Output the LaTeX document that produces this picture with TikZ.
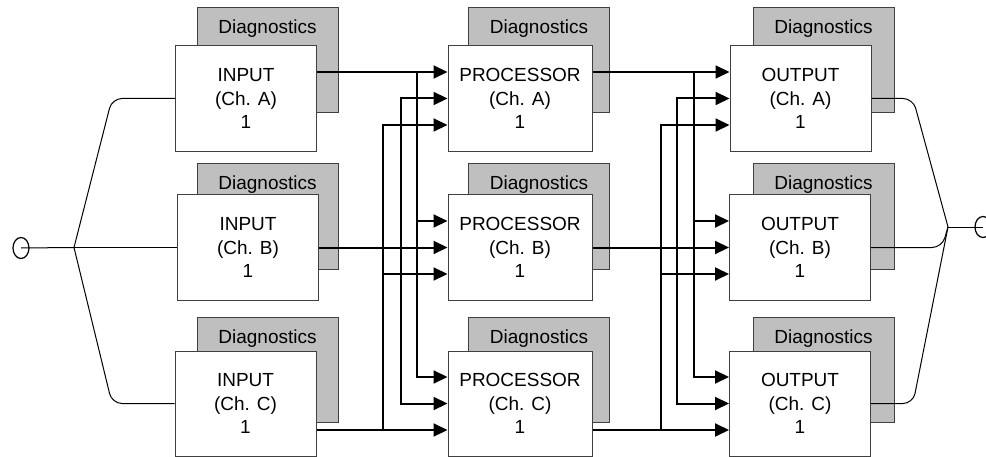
\documentclass[tikz,border=0pt]{standalone}
\usepackage{tikz}
\usetikzlibrary{shapes.geometric}
\usetikzlibrary{arrows.meta}
\usepackage{fontspec}
\setmainfont{Liberation Sans}
\usepackage{xcolor}

\begin{document}
\begin{tikzpicture}[x=0.2mm, y=-0.2mm,
            box/.style={draw=black!75, line width=0.2mm, fill=white, rectangle, minimum width=28.2mm, minimum height=21mm, align=center, font=\fontsize{10.8}{13.4}\selectfont},
            diag/.style={draw=black!75, line width=0.2mm, fill=black!25, rectangle, minimum width=28.2mm, minimum height=21mm, inner sep=0pt, text height=5.2mm, text depth=15.8mm, font=\fontsize{10.8}{13.4}\selectfont},
            link/.style={line width=0.4mm, -{Triangle[length=2.8mm, width=2.6mm]}},
            fan/.style={line width=0.2mm, rounded corners=2mm},
            port/.style={draw, ellipse, line width=0.25mm, minimum width=3.2mm, minimum height=4.2mm, inner sep=0pt}]
            \useasboundingbox (0,0) rectangle (986,457);

            % Diagnostics blocks behind each channel
            \node[diag] (dinA) at (267.5,60.5) {Diagnostics};
            \node[diag] (dinB) at (267.5,216.5) {Diagnostics};
            \node[diag] (dinC) at (267.5,369.5) {Diagnostics};
            \node[diag] (dprA) at (539,60.5) {Diagnostics};
            \node[diag] (dprB) at (539,216.5) {Diagnostics};
            \node[diag] (dprC) at (539,369.5) {Diagnostics};
            \node[diag] (doutA) at (823.5,60.5) {Diagnostics};
            \node[diag] (doutB) at (823.5,216.5) {Diagnostics};
            \node[diag] (doutC) at (823.5,369.5) {Diagnostics};

            % Channel blocks
            \node[box] (inA) at (246,98.5) {INPUT\\(Ch. A)\\1};
            \node[box] (inB) at (248,247.5) {INPUT\\(Ch. B)\\1};
            \node[box] (inC) at (245.5,403.5) {INPUT\\(Ch. C)\\1};
            \node[box, minimum width=28.8mm] (prA) at (520,98.5) {PROCESSOR\\(Ch. A)\\1};
            \node[box, minimum width=28.8mm] (prB) at (520,247.5) {PROCESSOR\\(Ch. B)\\1};
            \node[box, minimum width=28.8mm] (prC) at (520,403.5) {PROCESSOR\\(Ch. C)\\1};
            \node[box] (outA) at (800.5,98.5) {OUTPUT\\(Ch. A)\\1};
            \node[box] (outB) at (800,247.5) {OUTPUT\\(Ch. B)\\1};
            \node[box] (outC) at (800,403.5) {OUTPUT\\(Ch. C)\\1};

            % Signal in and out
            \node[port] (src) at (21,248) {};
            \node[port] (dst) at (983,227) {};
            \coordinate (jin) at (74,247.5);
            \coordinate (jout) at (948,227);

            \draw[fan] (src.center) -- (jin);
            \draw[fan] (jin) -- (112,98.5) -- (inA.west);
            \draw[fan] (jin) -- (inB.west);
            \draw[fan] (jin) -- (112,403.5) -- (inC.west);
            \draw[fan] (dst.center) -- (jout);
            \draw[fan] (outA.east) -- (913,98.5) -- (jout);
            \draw[fan] (outB.east) -- (942,247.5) -- (jout);
            \draw[fan] (outC.east) -- (913,403.5) -- (jout);

            % Input -> processor cross links
            \coordinate (ia) at (417,72);
            \coordinate (ib) at (401,247.5);
            \coordinate (ic) at (383,430);
            \draw[link] ([yshift=5.3mm]inA.east) -- ([yshift=5.3mm]prA.west);
            \draw[link] (inB.east) -- (prB.west);
            \draw[link] ([yshift=-5.3mm]inC.east) -- ([yshift=-5.3mm]prC.west);
            \draw[link] (ia) |- ([yshift=5.3mm]prB.west);
            \draw[link] (ia) |- ([yshift=5.3mm]prC.west);
            \draw[link] (ib) |- (prA.west);
            \draw[link] (ib) |- (prC.west);
            \draw[link] (ic) |- ([yshift=-5.3mm]prA.west);
            \draw[link] (ic) |- ([yshift=-5.3mm]prB.west);

            % Processor -> output cross links
            \coordinate (pa) at (694,72);
            \coordinate (pb) at (677,247.5);
            \coordinate (pc) at (661,430);
            \draw[link] ([yshift=5.3mm]prA.east) -- ([yshift=5.3mm]outA.west);
            \draw[link] (prB.east) -- (outB.west);
            \draw[link] ([yshift=-5.3mm]prC.east) -- ([yshift=-5.3mm]outC.west);
            \draw[link] (pa) |- ([yshift=5.3mm]outB.west);
            \draw[link] (pa) |- ([yshift=5.3mm]outC.west);
            \draw[link] (pb) |- (outA.west);
            \draw[link] (pb) |- (outC.west);
            \draw[link] (pc) |- ([yshift=-5.3mm]outA.west);
            \draw[link] (pc) |- ([yshift=-5.3mm]outB.west);
        \end{tikzpicture}
\end{document}
